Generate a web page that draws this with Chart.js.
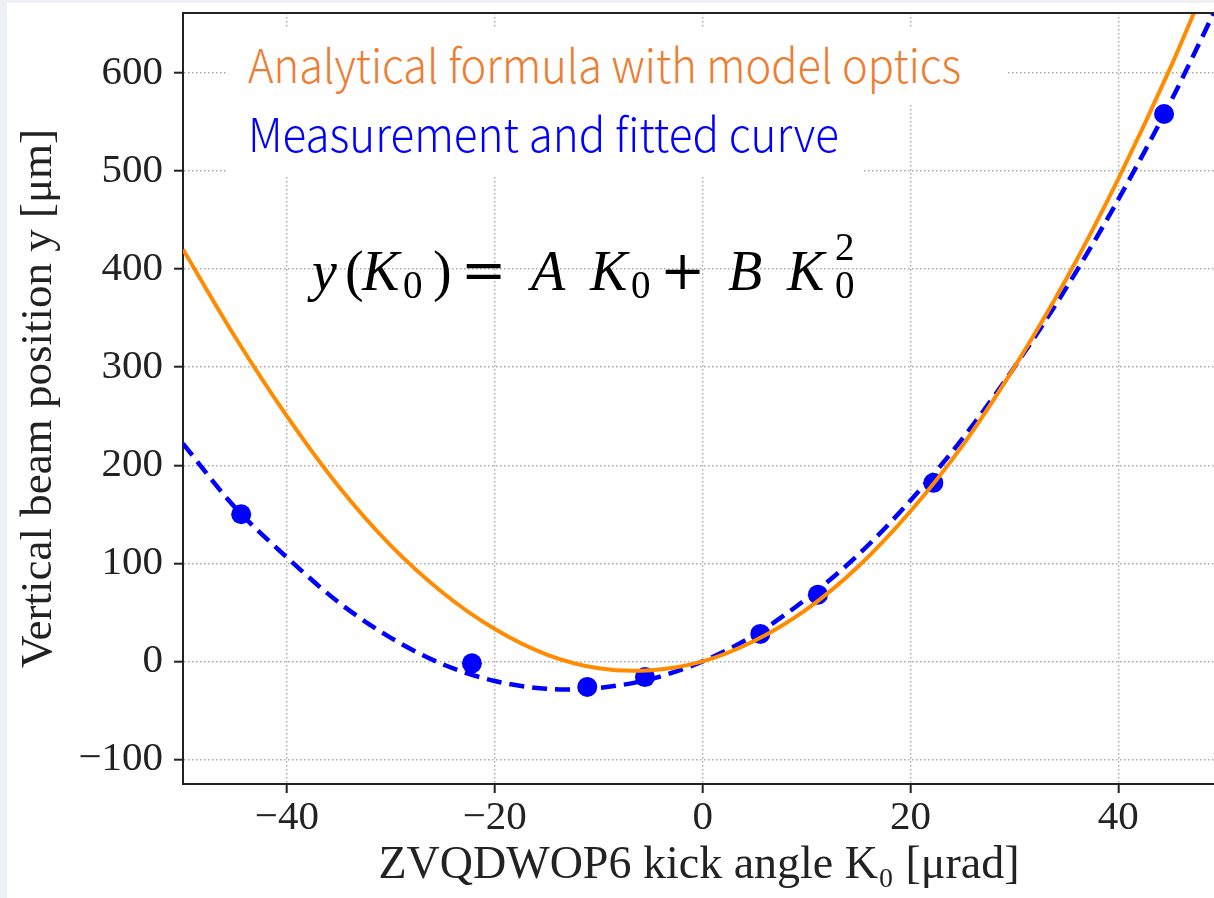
<!DOCTYPE html>
<html>
<head>
<meta charset="utf-8">
<script src="https://cdn.jsdelivr.net/npm/chart.js@4.4.0/dist/chart.umd.min.js"></script>
<style>
  html, body { margin: 0; padding: 0; }
  body { width: 1214px; height: 898px; background: #eef0f3; position: relative; overflow: hidden; }
  #wrap { position: absolute; left: 7px; top: 3px; width: 1207px; height: 895px; background: #fff; overflow: hidden; }
  .box { position: absolute; background: #fff; }
  .note { position: absolute; white-space: nowrap; font-family: "Noto Sans CJK JP", "Noto Sans", sans-serif;
          font-weight: 300; font-size: 46px; line-height: 46px; transform-origin: 0 0; }
  #formula { position: absolute; width: 560px; height: 70px; font-family: "Liberation Serif", serif;
             font-size: 56px; color: #000; }
  #formula span { position: absolute; top: 0; line-height: 60px; white-space: nowrap; }
  #formula .it { font-style: italic; }
  #formula .op { font-family: "DejaVu Serif", serif; font-size: 54px; }
  #formula .s { font-size: 39px; top: 14px; }
  #formula .u { font-size: 39px; top: -24px; }
</style>
</head>
<body>
<div id="wrap"><canvas id="chart" width="1218" height="895"></canvas></div>

<div class="box" style="left:228px; top:29px; width:779px; height:76px;"></div>
<div class="box" style="left:228px; top:105px; width:635px; height:70px;"></div>
<div class="note" style="left:248px; top:40px; color:#ED7D31; transform:scaleX(0.943);">Analytical formula with model optics</div>
<div class="note" style="left:248px; top:109px; color:#0000FF; transform:scaleX(0.955);">Measurement and fitted curve</div>
<div id="formula" style="left:312px; top:241px;">
  <span class="it" style="left:0px">y</span>
  <span style="left:33px">(</span>
  <span class="it" style="left:50px">K</span>
  <span class="s" style="left:91px">0</span>
  <span style="left:121px">)</span>
  <span class="op" style="left:149px">=</span>
  <span class="it" style="left:219px">A</span>
  <span class="it" style="left:278px">K</span>
  <span class="s" style="left:319px">0</span>
  <span class="op" style="left:348px">+</span>
  <span class="it" style="left:416px">B</span>
  <span class="it" style="left:475px">K</span>
  <span class="s" style="left:523px">0</span>
  <span class="u" style="left:523px">2</span>
</div>

<script>
// measured beam positions
const kick = [-44.4, -22.2, -11.1, -5.55, 5.55, 11.1, 22.2, 44.4];
const measured = [150, -2, -26, -16, 28, 68, 182, 558];

// curves every 5 µrad
const curveK = [-50, -45, -40, -35, -30, -25, -20, -15, -10, -5, 0, 5, 10, 15, 20, 25, 30, 35, 40, 45, 50];
const modelY = [420, 331, 250, 178, 118, 70, 33, 7, -7, -9, 0, 21, 53, 97, 153, 220, 300, 390, 492, 605, 730];
const fitY   = [222, 157, 106, 60, 24, -3, -20, -28, -27, -18, 0, 27, 64, 109, 164, 227, 300, 381, 471, 570, 679];

const xTicks = [-40, -20, 0, 20, 40];
const yTicks = [-100, 0, 100, 200, 300, 400, 500, 600];

const serif = "'Liberation Serif', 'DejaVu Serif', serif";

function pts(xs, ys) {
  return xs.map((x, i) => ({ x: x, y: ys[i] }));
}

function minusLabel(v) {
  return v < 0 ? "\u2212" + Math.abs(v) : String(v);
}

// matplotlib-like frame line on top
const topFrame = {
  id: "topFrame",
  afterDraw(chart) {
    const { ctx, chartArea } = chart;
    ctx.save();
    ctx.strokeStyle = "#222";
    ctx.lineWidth = 2;
    ctx.beginPath();
    ctx.moveTo(chartArea.left, chartArea.top);
    ctx.lineTo(chartArea.right, chartArea.top);
    ctx.stroke();
    ctx.restore();
  }
};

const gridOpts = {
  color: "#aaaaaa",
  lineWidth: 1.4,
  tickLength: 9,
  tickColor: "#222",
  tickWidth: 2,
  tickBorderDash: []
};

new Chart(document.getElementById("chart"), {
  type: "scatter",
  data: {
    datasets: [
      {
        label: "Analytical formula with model optics",
        data: pts(curveK, modelY),
        showLine: true,
        borderColor: "#FF8C00",
        borderWidth: 4,
        pointRadius: 0,
        tension: 0.33,
        clip: 0
      },
      {
        label: "Measurement",
        data: pts(kick, measured),
        showLine: false,
        backgroundColor: "#0000FF",
        borderColor: "#0000FF",
        pointRadius: 10,
        pointBorderWidth: 0,
        clip: 0
      },
      {
        label: "Fitted curve",
        data: pts(curveK, fitY),
        showLine: true,
        borderColor: "#0000FF",
        borderWidth: 4.5,
        borderDash: [15, 8],
        pointRadius: 0,
        tension: 0.33,
        clip: 0
      }
    ]
  },
  options: {
    responsive: false,
    animation: false,
    devicePixelRatio: 1,
    layout: { padding: { left: 0, top: 10, right: 0, bottom: 0 } },
    plugins: { legend: { display: false }, tooltip: { enabled: false } },
    scales: {
      x: {
        type: "linear",
        min: -50,
        max: 49.3,
        afterBuildTicks: s => { s.ticks = xTicks.map(v => ({ value: v })); },
        afterFit: s => { s.height = 114; s.paddingLeft = 0; s.paddingRight = 0; },
        grid: gridOpts,
        border: { color: "#222", width: 2, dash: [1.5, 2.5] },
        ticks: {
          color: "#222",
          padding: 1,
          maxRotation: 0,
          font: { family: serif, size: 41 },
          callback: minusLabel
        },
        title: {
          display: true,
          text: "ZVQDWOP6 kick angle K\u2080 [\u03bcrad]",
          color: "#222",
          font: { family: serif, size: 46 },
          padding: { top: 4, bottom: 4 }
        }
      },
      y: {
        type: "linear",
        min: -125,
        max: 661,
        afterBuildTicks: s => { s.ticks = yTicks.map(v => ({ value: v })); },
        afterFit: s => { s.width = 176; s.paddingTop = 0; s.paddingBottom = 0; },
        grid: gridOpts,
        border: { color: "#222", width: 2, dash: [1.5, 2.5] },
        ticks: {
          color: "#222",
          padding: 11,
          font: { family: serif, size: 41 },
          callback: minusLabel
        },
        title: {
          display: true,
          text: "Vertical beam position y [\u03bcm]",
          color: "#222",
          font: { family: serif, size: 45 },
          padding: { top: 5, bottom: 0 }
        }
      }
    }
  },
  plugins: [topFrame]
});
</script>
</body>
</html>
